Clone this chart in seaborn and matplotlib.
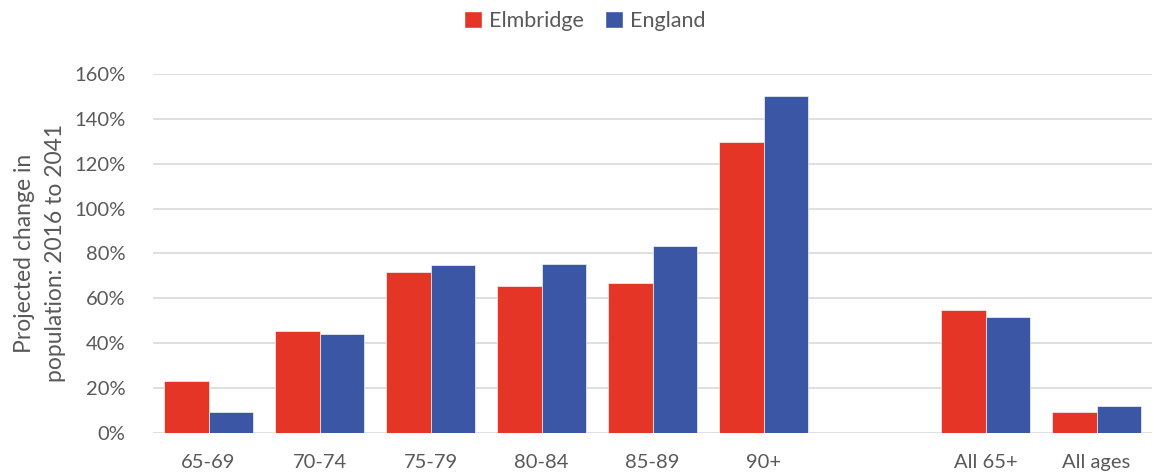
import pandas as pd
import numpy as np
import seaborn as sns
import matplotlib.pyplot as plt
from matplotlib.patches import Patch
from matplotlib.ticker import FuncFormatter

# Dati (variazione % 2016-2041)
gruppi = ["65-69", "70-74", "75-79", "80-84", "85-89", "90+", " ", "All 65+", "All ages"]
elmbridge = [23.1, 45.5, 71.9, 65.6, 66.6, 129.5, np.nan, 54.7, 9.1]
england = [9.1, 44.2, 74.6, 75.1, 83.4, 150.2, np.nan, 51.6, 11.9]
serie = ["Elmbridge", "England"]
colori = ["#E43526", "#3B56A4"]

df = pd.DataFrame({
    "Gruppo": gruppi * 2,
    "Area": [serie[0]] * len(gruppi) + [serie[1]] * len(gruppi),
    "Valore": elmbridge + england,
})

grigio = "#595959"
sns.set_style("white")
plt.rcParams["font.family"] = ["Lato", "DejaVu Sans"]

fig = plt.figure(figsize=(11.54, 4.75), dpi=100)
ax = fig.add_axes([153 / 1154, 1 - 432.7 / 475, 999 / 1154, 358.7 / 475])

sns.barplot(
    data=df, x="Gruppo", y="Valore", hue="Area",
    order=gruppi, hue_order=serie, palette=colori, saturation=1,
    width=0.81, edgecolor="#F2F2F2", linewidth=0.5,
    legend=False, ax=ax, zorder=3,
)

ax.set_ylim(0, 160)
ax.set_yticks(np.arange(0, 161, 20))
ax.yaxis.set_major_formatter(FuncFormatter(lambda v, p: f"{v:.0f}%"))
ax.set_xlim(-0.5, len(gruppi) - 0.5)
ax.grid(axis="y", color="#D9D9D9", linewidth=1.2, zorder=0)
for s in ax.spines.values():
    s.set_visible(False)

ax.tick_params(axis="both", length=0, labelsize=14.5, colors=grigio)
ax.tick_params(axis="x", pad=15)
ax.tick_params(axis="y", pad=20)
ax.set_xlabel("")
ax.set_ylabel("Projected change in\npopulation: 2016 to 2041", fontsize=16.5, color=grigio,
              va="center", multialignment="center", linespacing=1.6)
ax.yaxis.set_label_coords(-0.113, 0.5)

handles = [Patch(facecolor=c, label=l) for c, l in zip(colori, serie)]
fig.legend(handles=handles, loc="center", bbox_to_anchor=(585 / 1154, 1 - 21 / 475), ncol=2,
           frameon=False, fontsize=15.5, labelcolor=grigio, handlelength=0.8,
           handleheight=0.8, handletextpad=0.35, columnspacing=1.0)

plt.savefig("out.png", dpi=100)
